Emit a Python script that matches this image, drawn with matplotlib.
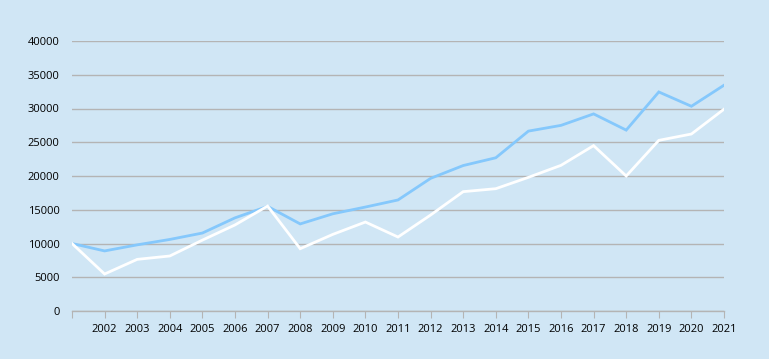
import numpy as np
import matplotlib.pyplot as plt

years = list(range(2001, 2022))
blue_vals = [10000, 8900, 9800, 10600, 11550, 13800, 15500, 12900, 14400, 15400,
             16450, 19650, 21550, 22700, 26650, 27500, 29200, 26800, 32450, 30330, 33450]
white_vals = [10000, 5480, 7650, 8150, 10500, 12750, 15550, 9230, 11350, 13180,
              10960, 14220, 17680, 18120, 19800, 21580, 24500, 20000, 25280, 26220, 29900]
yticks = [0, 5000, 10000, 15000, 20000, 25000, 30000, 35000, 40000]
xlabels = [str(y) if y > 2001 else '' for y in years]

bg = '#D0E6F5'
plt.rcParams['font.family'] = ['Open Sans', 'DejaVu Sans']

fig = plt.figure(figsize=(7.69, 3.59), dpi=100)
fig.patch.set_facecolor(bg)
ax = fig.add_axes([72/769, 48/359, 652/769, 270/359])
ax.set_facecolor(bg)

ax.plot(years, blue_vals, color='#85C8FC', lw=2.0, solid_joinstyle='miter')
ax.plot(years, white_vals, color='white', lw=2.0, solid_joinstyle='miter')

ax.set_xlim(2001, 2021)
ax.set_ylim(0, 40000)
ax.set_yticks(yticks)
ax.set_yticklabels([str(v) for v in yticks])
ax.set_xticks(years)
ax.set_xticklabels(xlabels)
ax.grid(axis='y', color='#B4B4B4', lw=1.0)
ax.set_axisbelow(True)

for s in ['left', 'right', 'top']:
    ax.spines[s].set_visible(False)
ax.spines['bottom'].set_color('#B4B4B4')
ax.spines['bottom'].set_linewidth(1.0)
ax.tick_params(axis='x', length=5, color='#B4B4B4', labelsize=8, pad=4, labelcolor='black')
ax.tick_params(axis='y', length=0, labelsize=8, pad=9, labelcolor='black')

fig.savefig('out.png', dpi=100, facecolor=bg)
